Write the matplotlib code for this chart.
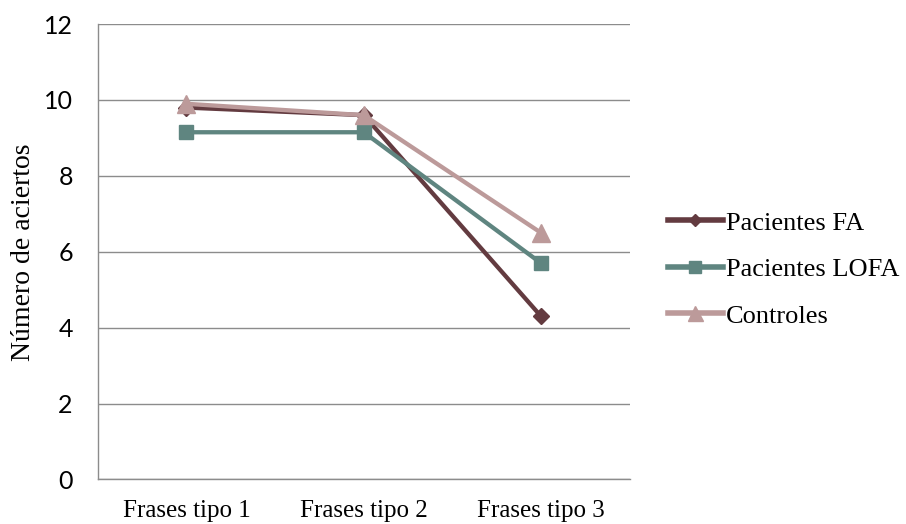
import numpy as np
import matplotlib
matplotlib.use("Agg")
import matplotlib.pyplot as plt

# data
categorias = ["Frases tipo 1", "Frases tipo 2", "Frases tipo 3"]
pacientes_fa = [9.8, 9.6, 4.3]
pacientes_lofa = [9.15, 9.15, 5.7]
controles = [9.9, 9.6, 6.5]

serif = "Liberation Serif"
sans = "Lato"

fig = plt.figure(figsize=(9.06, 5.24), dpi=100)
ax = fig.add_axes([0.108, 0.085, 0.587, 0.869])

x = np.arange(len(categorias))

ax.plot(x, pacientes_fa, color="#633b40", lw=3.1, marker="D", ms=8,
        label="Pacientes FA", zorder=3)
ax.plot(x, pacientes_lofa, color="#5f8580", lw=3.1, marker="s", ms=10,
        label="Pacientes LOFA", zorder=3)
ax.plot(x, controles, color="#bc9a9a", lw=3.1, marker="^", ms=13.5,
        label="Controles", zorder=4)

ax.set_xlim(-0.5, 2.5)
ax.set_ylim(0, 12)
ax.set_yticks(np.arange(0, 13, 2))
ax.set_xticks(x)
ax.set_xticklabels(categorias, fontfamily=serif, fontsize=18)
for t in ax.get_yticklabels():
    t.set_fontfamily(sans)
    t.set_fontsize(18)

ax.grid(axis="y", color="#8c8c8c", lw=1)
ax.set_axisbelow(True)
for s in ["top", "right"]:
    ax.spines[s].set_visible(False)
for s in ["left", "bottom"]:
    ax.spines[s].set_color("#8c8c8c")
    ax.spines[s].set_linewidth(1)
ax.tick_params(axis="x", length=0, pad=15)
ax.tick_params(axis="y", length=0, pad=18)

ax.set_ylabel("Número de aciertos", fontfamily=serif, fontsize=20, labelpad=6)

leg = fig.legend(loc="center left", bbox_to_anchor=(0.737, 0.486), frameon=False,
                 prop={"family": serif, "size": 19}, handlelength=2.1,
                 handletextpad=0.12, labelspacing=0.87, borderaxespad=0,
                 borderpad=0, markerscale=0.8)
for h in leg.legend_handles:
    h.set_linewidth(4)

fig.savefig("out.png", dpi=100)
